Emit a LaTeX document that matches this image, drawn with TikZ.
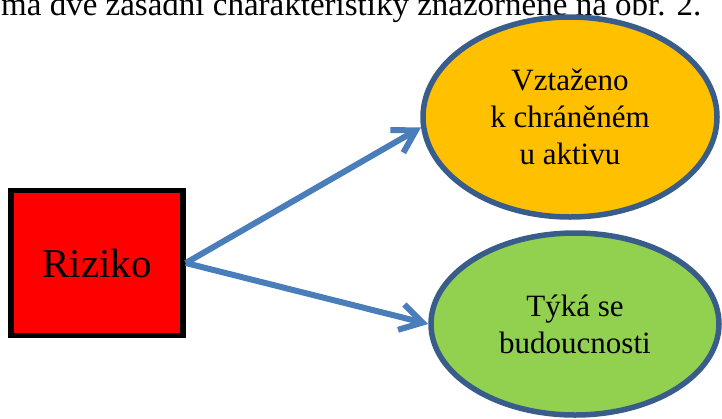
\documentclass[tikz,border=0pt]{standalone}
\usepackage{fontspec}
\setmainfont{Liberation Serif}
\usetikzlibrary{arrows.meta,shapes.geometric}

\definecolor{riskred}{HTML}{FF0000}
\definecolor{protectfill}{HTML}{FFC000}
\definecolor{futurefill}{HTML}{92D050}
\definecolor{ovalblue}{HTML}{385D8A}
\definecolor{linkblue}{HTML}{4A7EBB}

\begin{document}
\begin{tikzpicture}
[
	            x = 1pt,
	            y = -1pt,
	           >= {Straight Barb[length=22pt,width=26pt]},
	  box/.style = { draw=black, line width=5.5pt, fill=riskred, inner sep=0pt,
	                 minimum width=172pt, minimum height=145pt,
	                 font=\fontsize{41}{49}\selectfont },
	 oval/.style = { ellipse, draw=ovalblue, line width=5.5pt, inner sep=0pt,
	                 align=center, font=\fontsize{31}{37}\selectfont },
	 link/.style = { ->, draw=linkblue, line width=6pt }
]
	\useasboundingbox (0,0) rectangle (722,418);
	\clip (0,0) rectangle (722,418);

	\node (intro)   at (1,15)    [anchor=base west, inner sep=0pt, font=\fontsize{33}{40}\selectfont]
		{má dvě zásadní charakteristiky znázorněné na obr. 2.};

	\node (risk)    at (97,263)  [box]  {Riziko};
	\node (protect) at (570,117) [oval, fill=protectfill, minimum width=294pt, minimum height=200pt]
		{Vztaženo\\k chráněném\\u aktivu};
	\node (future)  at (575,324) [oval, fill=futurefill, minimum width=288pt, minimum height=182pt]
		{Týká se\\budoucnosti};

	\draw [link] (risk.east) -- (protect.184);
	\draw [link] (risk.east) -- (future.west);

\end{tikzpicture}
\end{document}
